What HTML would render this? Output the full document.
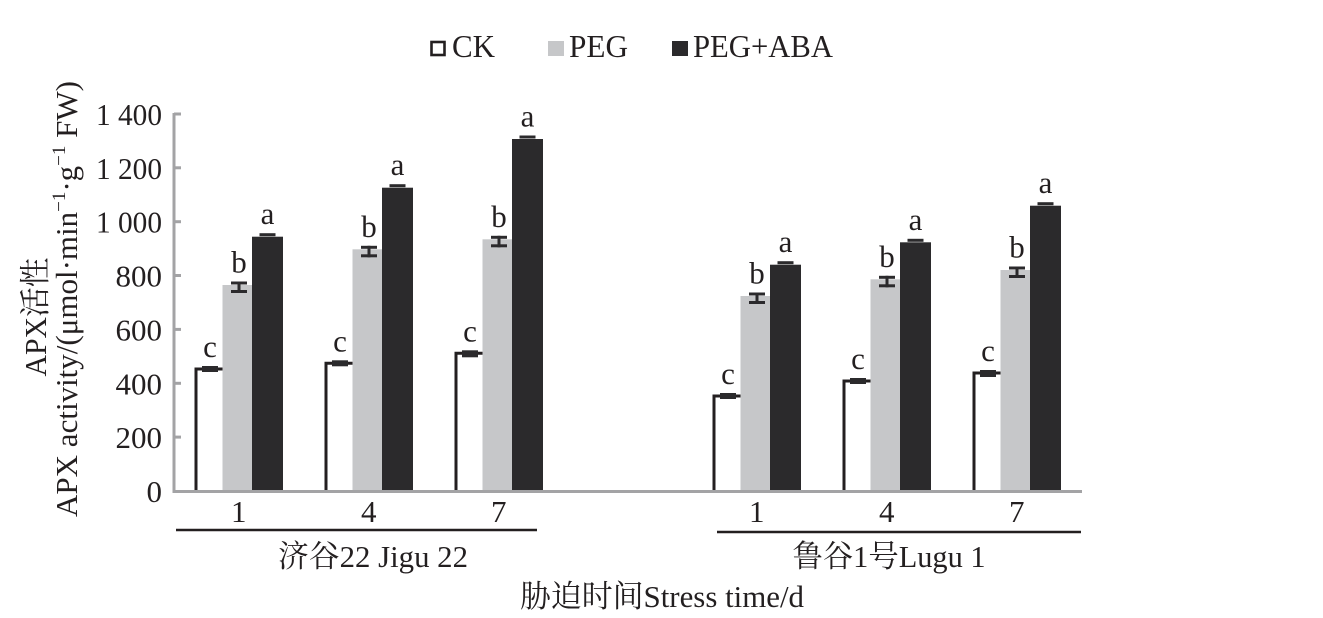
<!DOCTYPE html>
<html>
<head>
<meta charset="utf-8">
<style>
html,body{margin:0;padding:0;background:#fff;}
svg{display:block;}
text{font-family:"Liberation Serif","Noto Serif CJK SC",serif;fill:#231f20;}
</style>
</head>
<body>
<svg width="1323" height="618" viewBox="0 0 1323 618" xmlns="http://www.w3.org/2000/svg">
<rect x="0" y="0" width="1323" height="618" fill="#fff"/>

<!-- Legend -->
<rect x="431.5" y="42" width="13" height="13" fill="#fff" stroke="#231f20" stroke-width="2.6"/>
<text x="452" y="57" font-size="32" textLength="43" lengthAdjust="spacingAndGlyphs">CK</text>
<rect x="548" y="41" width="16" height="15" fill="#c6c7c9"/>
<text x="569" y="57" font-size="32" textLength="59" lengthAdjust="spacingAndGlyphs">PEG</text>
<rect x="672" y="41" width="16" height="15" fill="#2b2a2c"/>
<text x="693" y="57" font-size="32" textLength="140" lengthAdjust="spacingAndGlyphs">PEG+ABA</text>

<!-- Y axis title -->
<text transform="translate(46,317) rotate(-90)" text-anchor="middle" font-size="31" textLength="119" lengthAdjust="spacingAndGlyphs">APX活性</text>
<text transform="translate(77,299) rotate(-90)" text-anchor="middle" font-size="31">APX activity/(μmol·min<tspan font-size="19" dy="-12">−1</tspan><tspan dy="12">·g</tspan><tspan font-size="19" dy="-12">−1</tspan><tspan dy="12"> FW)</tspan></text>

<!-- Y tick labels -->
<g font-size="31" text-anchor="end">
<text x="162" y="125" textLength="66" lengthAdjust="spacingAndGlyphs">1 400</text>
<text x="162" y="178.8" textLength="66" lengthAdjust="spacingAndGlyphs">1 200</text>
<text x="162" y="232.7" textLength="66" lengthAdjust="spacingAndGlyphs">1 000</text>
<text x="162" y="286.5">800</text>
<text x="162" y="340.4">600</text>
<text x="162" y="394.3">400</text>
<text x="162" y="448.1">200</text>
<text x="162" y="502">0</text>
</g>

<!-- Bars -->
<g>
<!-- Jigu day 1 -->
<path d="M196,491 V369 H223" fill="#fff" stroke="#231f20" stroke-width="3"/>
<rect x="222.5" y="285" width="29.5" height="206" fill="#c6c7c9"/>
<rect x="252" y="236.7" width="31" height="254.3" fill="#2b2a2c"/>
<!-- Jigu day 4 -->
<path d="M326,491 V363.3 H353" fill="#fff" stroke="#231f20" stroke-width="3"/>
<rect x="352.5" y="249.3" width="29.5" height="241.7" fill="#c6c7c9"/>
<rect x="382" y="187.7" width="31" height="303.3" fill="#2b2a2c"/>
<!-- Jigu day 7 -->
<path d="M456,491 V353.3 H483" fill="#fff" stroke="#231f20" stroke-width="3"/>
<rect x="482.5" y="239.3" width="29.5" height="251.7" fill="#c6c7c9"/>
<rect x="512" y="139" width="31" height="352" fill="#2b2a2c"/>
<!-- Lugu day 1 -->
<path d="M714,491 V396 H741" fill="#fff" stroke="#231f20" stroke-width="3"/>
<rect x="740.5" y="296" width="29.5" height="195" fill="#c6c7c9"/>
<rect x="770" y="264.7" width="31" height="226.3" fill="#2b2a2c"/>
<!-- Lugu day 4 -->
<path d="M844,491 V381 H871" fill="#fff" stroke="#231f20" stroke-width="3"/>
<rect x="870.5" y="279.3" width="29.5" height="211.7" fill="#c6c7c9"/>
<rect x="900" y="242.3" width="31" height="248.7" fill="#2b2a2c"/>
<!-- Lugu day 7 -->
<path d="M974,491 V373 H1001" fill="#fff" stroke="#231f20" stroke-width="3"/>
<rect x="1000.5" y="270" width="29.5" height="221" fill="#c6c7c9"/>
<rect x="1030" y="205.7" width="31" height="285.3" fill="#2b2a2c"/>
</g>

<!-- Error bars -->
<g fill="#2b2a2c">
<!-- CK -->
<rect x="202" y="366" width="16" height="6"/>
<rect x="332" y="360.3" width="16" height="6"/>
<rect x="462" y="350.3" width="16" height="7"/>
<rect x="720" y="393" width="16" height="6"/>
<rect x="850" y="378" width="16" height="6"/>
<rect x="980" y="370" width="16" height="7"/>
<!-- PEG -->
<rect x="231" y="281.5" width="16" height="3"/><rect x="231" y="290" width="16" height="3"/><rect x="237.5" y="281.5" width="3" height="11.5"/>
<rect x="361" y="245.8" width="16" height="3"/><rect x="361" y="254.3" width="16" height="3"/><rect x="367.5" y="245.8" width="3" height="11.5"/>
<rect x="491" y="235.8" width="16" height="3"/><rect x="491" y="244.3" width="16" height="3"/><rect x="497.5" y="235.8" width="3" height="11.5"/>
<rect x="749" y="292.5" width="16" height="3"/><rect x="749" y="301" width="16" height="3"/><rect x="755.5" y="292.5" width="3" height="11.5"/>
<rect x="879" y="275.8" width="16" height="3"/><rect x="879" y="284.3" width="16" height="3"/><rect x="885.5" y="275.8" width="3" height="11.5"/>
<rect x="1009" y="266.5" width="16" height="3"/><rect x="1009" y="275" width="16" height="3"/><rect x="1015.5" y="266.5" width="3" height="11.5"/>
<!-- PEG+ABA -->
<rect x="259.5" y="233.2" width="16" height="3"/>
<rect x="389.5" y="184.2" width="16" height="3"/>
<rect x="519.5" y="135.5" width="16" height="3"/>
<rect x="777.5" y="261.2" width="16" height="3"/>
<rect x="907.5" y="238.8" width="16" height="3"/>
<rect x="1037.5" y="202.2" width="16" height="3"/>
</g>

<!-- Significance letters -->
<g font-size="31" text-anchor="middle">
<text x="210" y="357">c</text><text x="239" y="272.5">b</text><text x="267.5" y="224.2">a</text>
<text x="340" y="351.3">c</text><text x="369" y="236.8">b</text><text x="397.5" y="175.2">a</text>
<text x="470" y="341.3">c</text><text x="499" y="226.8">b</text><text x="527.5" y="126.5">a</text>
<text x="728" y="384">c</text><text x="757" y="283.5">b</text><text x="785.5" y="252.2">a</text>
<text x="858" y="369">c</text><text x="887" y="266.8">b</text><text x="915.5" y="229.8">a</text>
<text x="988" y="361">c</text><text x="1017" y="257.5">b</text><text x="1045.5" y="193.2">a</text>
</g>

<!-- Axes -->
<g stroke="#a3a3a5" stroke-width="3" fill="none">
<line x1="174" y1="113" x2="174" y2="492"/>
<line x1="172.5" y1="491.5" x2="1082" y2="491.5"/>
<line x1="174" y1="114" x2="181" y2="114"/>
<line x1="174" y1="167.8" x2="181" y2="167.8"/>
<line x1="174" y1="221.7" x2="181" y2="221.7"/>
<line x1="174" y1="275.5" x2="181" y2="275.5"/>
<line x1="174" y1="329.4" x2="181" y2="329.4"/>
<line x1="174" y1="383.3" x2="181" y2="383.3"/>
<line x1="174" y1="437.1" x2="181" y2="437.1"/>
</g>

<!-- X tick labels -->
<g font-size="31" text-anchor="middle">
<text x="238.75" y="522">1</text>
<text x="368.75" y="522">4</text>
<text x="498.75" y="522">7</text>
<text x="756.75" y="522">1</text>
<text x="886.75" y="522">4</text>
<text x="1016.75" y="522">7</text>
</g>

<!-- Group underlines -->
<line x1="176" y1="530" x2="537" y2="530" stroke="#231f20" stroke-width="2.5"/>
<line x1="717" y1="532" x2="1081" y2="532" stroke="#231f20" stroke-width="2.5"/>

<!-- Group labels -->
<text x="373" y="567" font-size="31" text-anchor="middle" textLength="190" lengthAdjust="spacingAndGlyphs">济谷22 Jigu 22</text>
<text x="889" y="567" font-size="31" text-anchor="middle" textLength="193" lengthAdjust="spacingAndGlyphs">鲁谷1号Lugu 1</text>

<!-- X axis title -->
<text x="662" y="607" font-size="31" text-anchor="middle" textLength="284" lengthAdjust="spacingAndGlyphs">胁迫时间Stress time/d</text>
</svg>
</body>
</html>
